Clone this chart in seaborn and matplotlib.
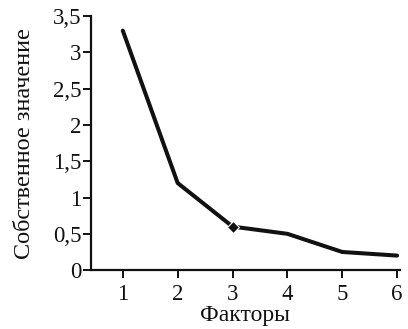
import matplotlib
matplotlib.use("Agg")
import matplotlib.pyplot as plt
import seaborn as sns
import pandas as pd
from matplotlib.ticker import FuncFormatter

factors = [1, 2, 3, 4, 5, 6]
eigenvalues = [3.3, 1.2, 0.6, 0.5, 0.25, 0.2]
y_ticks = [0, 0.5, 1, 1.5, 2, 2.5, 3, 3.5]

sns.set_theme(style="ticks")
plt.rcParams["font.family"] = ["Liberation Serif", "DejaVu Serif"]

df = pd.DataFrame({"Факторы": factors, "Собственное значение": eigenvalues})

fig = plt.figure(figsize=(4.08, 3.29), dpi=100)
ax = fig.add_axes([0.223, 0.179, 0.757, 0.772])

sns.lineplot(data=df, x="Факторы", y="Собственное значение", ax=ax,
             color="#111111", linewidth=2.9, marker="D", markersize=6,
             markevery=[2], solid_capstyle="round", solid_joinstyle="round")

ax.set_xlim(0.42, 6.05)
ax.set_ylim(0, 3.5)
ax.set_xticks(factors)
ax.set_yticks(y_ticks)
ax.yaxis.set_major_formatter(FuncFormatter(lambda v, p: f"{v:g}".replace(".", ",")))

for s in ("top", "right"):
    ax.spines[s].set_visible(False)
for s in ("left", "bottom"):
    ax.spines[s].set_linewidth(1.6)
    ax.spines[s].set_color("#111111")

ax.tick_params(axis="both", labelsize=16.5, colors="#111111", width=1.4, length=6)
ax.tick_params(axis="x", pad=4)
ax.tick_params(axis="y", pad=1)
ax.set_xlabel("Факторы", fontsize=17, color="#111111", labelpad=0)
ax.set_ylabel("Собственное значение", fontsize=17.5, color="#111111", labelpad=13)

fig.savefig("out.png", dpi=100)
